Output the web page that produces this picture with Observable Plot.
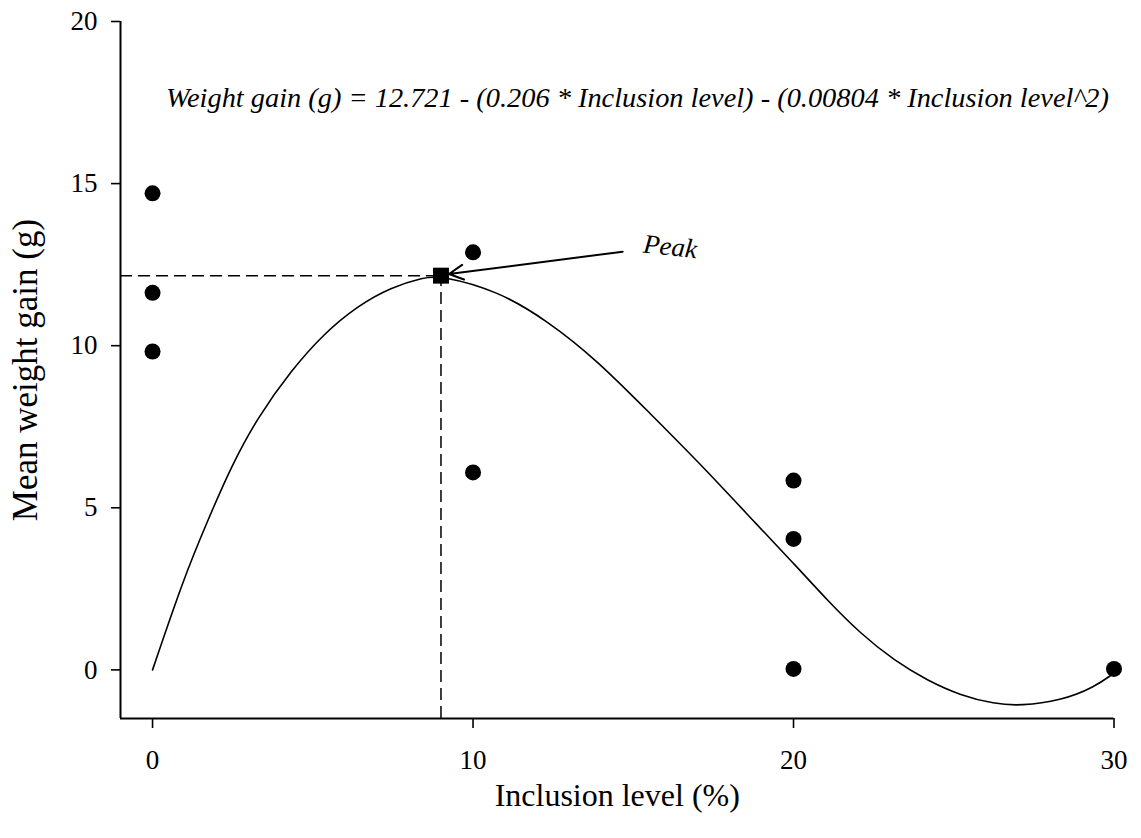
<!DOCTYPE html>
<html><head><meta charset="utf-8">
<script src="https://cdn.jsdelivr.net/npm/d3@7"></script>
<script src="https://cdn.jsdelivr.net/npm/@observablehq/plot@0.6"></script>
<style>
body{margin:0;background:#fff}
svg text{font-family:"Liberation Serif","Times New Roman",serif !important;}
</style>
</head><body><div id="chart"></div>
<script>
// ---- data ----
const xTicks = [0, 10, 20, 30];
const yTicks = [0, 5, 10, 15, 20];
const obsX = [0, 0, 0, 10, 10, 20, 20, 20, 30];
const obsY = [14.70, 11.63, 9.82, 12.88, 6.09, 5.84, 4.04, 0.03, 0.03];
const fitX = [0, 0.98, 1.72, 2.44, 3.28, 4.32, 5.34, 6.40, 7.44, 8.46, 9.0, 10.76, 12.32, 13.88, 15.44, 17.0, 18.98, 20.02, 21.06, 22.10, 23.14, 24.18, 25.22, 26.26, 27.09, 28.34, 29.38, 30.0];
const fitY = [0, 2.85, 4.60, 6.25, 7.79, 9.23, 10.37, 11.23, 11.80, 12.11, 12.16, 11.70, 10.77, 9.54, 7.99, 6.45, 4.35, 3.27, 2.14, 1.11, 0.29, -0.33, -0.79, -1.05, -1.11, -0.95, -0.54, -0.10];
const peakX = [9.0];
const peakY = [12.16];
const arrowStart = [14.67, 12.90];
const arrowEnd = [9.25, 12.21];
const peakLabel = ["Peak"];
const peakLabelPos = [16.15, 13.05];
const equation = ["Weight gain (g) = 12.721 - (0.206 * Inclusion level) - (0.00804 * Inclusion level^2)"];
const equationPos = [15.13, 17.62];
const xTitle = "Inclusion level (%)";
const yTitle = "Mean weight gain (g)";
const xDomain = [-1, 30];
const yDomain = [-1.5, 20];

const obs = obsX.map((x, i) => ({x, y: obsY[i]}));
const fit = fitX.map((x, i) => ({x, y: fitY[i]}));
const peak = peakX.map((x, i) => ({x, y: peakY[i]}));
const serif = "'Liberation Serif', 'Times New Roman', serif";

const chart = Plot.plot({
  width: 1141,
  height: 838,
  marginLeft: 120,
  marginRight: 27.5,
  marginTop: 21,
  marginBottom: 120,
  x: {domain: xDomain},
  y: {domain: yDomain},
  style: {fontFamily: serif, fontSize: "27px", color: "black", background: "white"},
  marks: [
    Plot.axisX(xTicks, {tickSize: 10, tickPadding: 21, fontSize: 27, fontFamily: serif, strokeWidth: 1.6, label: null}),
    Plot.axisY(yTicks, {tickSize: 9, tickPadding: 14, fontSize: 27, fontFamily: serif, strokeWidth: 1.6, label: null}),
    Plot.ruleX([xDomain[0]], {y1: yDomain[0], y2: yDomain[1], stroke: "black", strokeWidth: 2}),
    Plot.ruleY([yDomain[0]], {x1: xDomain[0], x2: xDomain[1], stroke: "black", strokeWidth: 2}),
    Plot.ruleY(peak, {y: "y", x1: () => xDomain[0], x2: "x", stroke: "black", strokeWidth: 1.5, strokeDasharray: "12,6"}),
    Plot.ruleX(peak, {x: "x", y1: () => yDomain[0], y2: "y", stroke: "black", strokeWidth: 1.5, strokeDasharray: "12,6"}),
    Plot.line(fit, {x: "x", y: "y", curve: "basis", stroke: "black", strokeWidth: 1.6}),
    Plot.dot(obs, {x: "x", y: "y", r: 8, fill: "black", stroke: null}),
    Plot.dot(peak, {x: "x", y: "y", r: 9, symbol: "square", fill: "black", stroke: null}),
    Plot.arrow([0], {x1: () => arrowStart[0], y1: () => arrowStart[1], x2: () => arrowEnd[0], y2: () => arrowEnd[1], stroke: "black", strokeWidth: 2, headLength: 12, headAngle: 55}),
    Plot.text(peakLabel, {x: () => peakLabelPos[0], y: () => peakLabelPos[1], text: d => d, fontFamily: serif, fontStyle: "italic", fontSize: 27, textAnchor: "middle", rotate: 6}),
    Plot.text(equation, {x: () => equationPos[0], y: () => equationPos[1], text: d => d, fontFamily: serif, fontStyle: "italic", fontSize: 27, textAnchor: "middle", className: "eqn"}),
    Plot.text([xTitle], {frameAnchor: "bottom", dy: 77, text: d => d, fontFamily: serif, fontSize: 32, textAnchor: "middle", lineAnchor: "middle"}),
    Plot.text([yTitle], {frameAnchor: "left", dx: -95, rotate: -90, text: d => d, fontFamily: serif, fontSize: 35, textAnchor: "middle", lineAnchor: "middle"})
  ]
});
document.getElementById("chart").appendChild(chart);
d3.select(chart).selectAll(".eqn text").attr("textLength", 943).attr("lengthAdjust", "spacingAndGlyphs");
</script>
</body></html>
